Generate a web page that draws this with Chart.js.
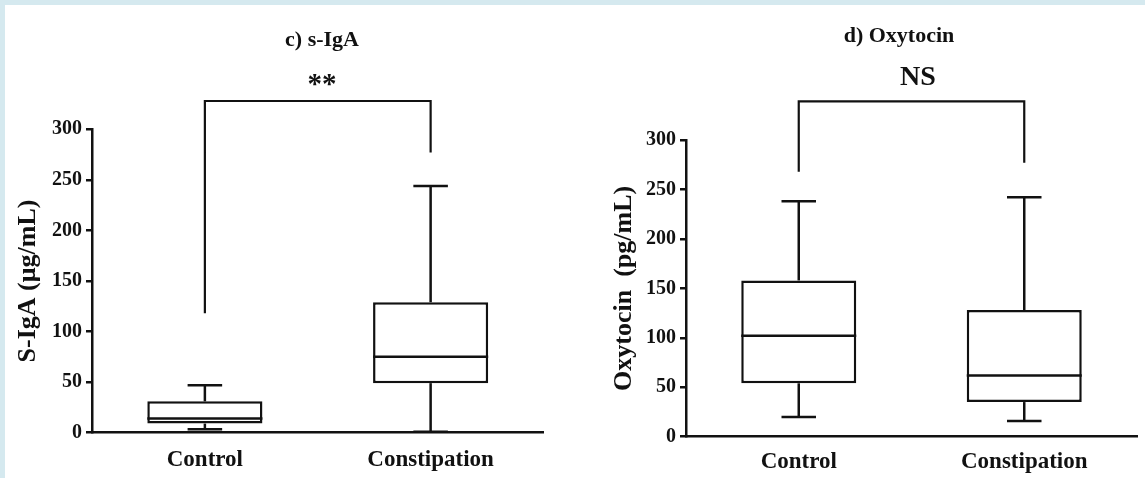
<!DOCTYPE html>
<html>
<head>
<meta charset="utf-8">
<script src="https://cdn.jsdelivr.net/npm/chart.js@4"></script>
<style>
  body { margin: 0; background: #fff; }
  #page { position: relative; width: 1145px; height: 478px; overflow: hidden; background: #fff; }
  .band-top { position: absolute; left: 0; top: 0; width: 1145px; height: 5px; background: #d5e9ef; }
  .band-left { position: absolute; left: 0; top: 0; width: 5px; height: 478px; background: #d5e9ef; }
  canvas { position: absolute; top: 0; }
  #igaChart { left: 0; }
  #oxyChart { left: 575px; }
</style>
</head>
<body>
<div id="page">
  <div class="band-top"></div>
  <div class="band-left"></div>
  <canvas id="igaChart" width="575" height="478"></canvas>
  <canvas id="oxyChart" width="570" height="478"></canvas>
</div>
<script>
// groups on the x axis
const groups = ["Control", "Constipation"];
const yTicks = [0, 50, 100, 150, 200, 250, 300];

// c) s-IgA, ug/mL
const igaMin = [3.5, 1];
const igaQ1 = [9, 49];
const igaMedian = [14, 75];
const igaQ3 = [31, 129];
const igaMax = [47, 244];
const igaBracket = [328, 118, 277]; // top, left leg end, right leg end

// d) Oxytocin, pg/mL
const oxyMin = [20, 16];
const oxyQ1 = [54, 35];
const oxyMedian = [102, 62];
const oxyQ3 = [158, 128];
const oxyMax = [238, 242];
const oxyBracket = [339, 268, 277];

const ink = "#111";
const serif = "'Liberation Serif', 'Times New Roman', serif";

// medians, whiskers, bracket and texts over the floating bars
const boxPlot = {
  id: "boxPlot",
  afterDatasetsDraw(chart, args, o) {
    const { ctx, scales: { x, y } } = chart;
    const py = v => y.getPixelForValue(v);
    const line = (x1, y1, x2, y2) => {
      ctx.beginPath(); ctx.moveTo(x1, y1); ctx.lineTo(x2, y2); ctx.stroke();
    };
    ctx.save();
    ctx.strokeStyle = ink;
    ctx.lineWidth = 2.5;
    chart.getDatasetMeta(0).data.forEach((bar, i) => {
      const cx = bar.x, half = bar.width / 2, cap = bar.width * 0.15;
      line(cx - half, py(o.median[i]), cx + half, py(o.median[i]));
      line(cx, py(o.q3[i]), cx, py(o.max[i]));
      line(cx - cap, py(o.max[i]), cx + cap, py(o.max[i]));
      line(cx, py(o.q1[i]), cx, py(o.min[i]));
      line(cx - cap, py(o.min[i]), cx + cap, py(o.min[i]));
    });
    const [top, legL, legR] = o.bracket;
    const x0 = x.getPixelForValue(0), x1 = x.getPixelForValue(1);
    ctx.lineWidth = 2.2;
    ctx.beginPath();
    ctx.moveTo(x0, py(legL));
    ctx.lineTo(x0, py(top));
    ctx.lineTo(x1, py(top));
    ctx.lineTo(x1, py(legR));
    ctx.stroke();

    ctx.fillStyle = ink;
    ctx.textAlign = "center";
    ctx.textBaseline = "alphabetic";
    ctx.font = "bold 22px " + serif;
    ctx.fillText(o.title, o.titleX, o.titleY);
    ctx.font = "bold " + o.markSize + "px " + serif;
    ctx.fillText(o.mark, o.markX, o.markY);
    ctx.restore();
  }
};

function makeChart(id, p) {
  return new Chart(document.getElementById(id), {
    type: "bar",
    data: {
      labels: groups,
      datasets: [{
        data: p.q1.map((v, i) => [v, p.q3[i]]),
        backgroundColor: "#fff",
        borderColor: ink,
        borderWidth: 2.5,
        borderSkipped: false,
        barPercentage: 0.51,
        categoryPercentage: 1
      }]
    },
    options: {
      responsive: false,
      animation: false,
      layout: { padding: p.padding },
      plugins: {
        legend: { display: false },
        tooltip: { enabled: false },
        boxPlot: p
      },
      scales: {
        x: {
          grid: { display: false, drawTicks: false },
          border: { display: true, color: ink, width: 2.5 },
          ticks: { color: ink, padding: p.xPad, font: { family: serif, size: 23, weight: "bold" } },
          afterFit: s => { s.height = p.xHeight; }
        },
        y: {
          min: 0,
          max: 300,
          afterBuildTicks: s => { s.ticks = yTicks.map(v => ({ value: v })); },
          grid: { drawOnChartArea: false, drawTicks: true, tickLength: 6, color: ink, lineWidth: 2.5 },
          border: { display: true, color: ink, width: 2.5 },
          ticks: { color: ink, padding: 4, font: { family: serif, size: 20, weight: "bold" } },
          title: {
            display: true,
            text: p.yTitle,
            color: ink,
            padding: { top: p.yTitlePad, bottom: 0 },
            font: { family: serif, size: 26, weight: "bold" }
          },
          afterFit: s => { s.width = p.yWidth; }
        }
      }
    },
    plugins: [boxPlot]
  });
}

makeChart("igaChart", {
  min: igaMin, q1: igaQ1, median: igaMedian, q3: igaQ3, max: igaMax, bracket: igaBracket,
  padding: { top: 129.3, right: 31.5, bottom: 0, left: 0 },
  yWidth: 92, xHeight: 45.3, xPad: 13.5, yTitlePad: 13,
  yTitle: "S-IgA (μg/mL)",
  title: "c) s-IgA", titleX: 322, titleY: 46,
  mark: "**", markSize: 29, markX: 322, markY: 93
});

makeChart("oxyChart", {
  min: oxyMin, q1: oxyQ1, median: oxyMedian, q3: oxyQ3, max: oxyMax, bracket: oxyBracket,
  padding: { top: 140, right: 8, bottom: 0, left: 0 },
  yWidth: 111, xHeight: 41.3, xPad: 11.5, yTitlePad: 34,
  yTitle: "Oxytocin  (pg/mL)",
  title: "d) Oxytocin", titleX: 324, titleY: 42,
  mark: "NS", markSize: 28, markX: 343, markY: 85
});
</script>
</body>
</html>
